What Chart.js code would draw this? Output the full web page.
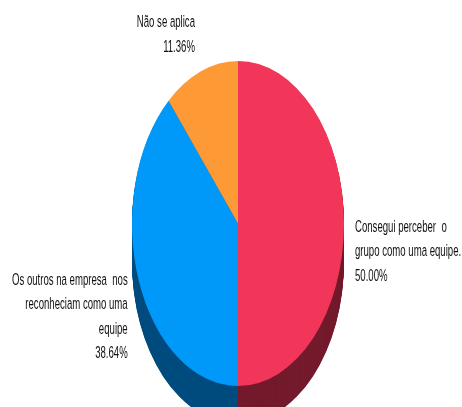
<!DOCTYPE html>
<html>
<head>
<meta charset="utf-8">
<script src="https://cdn.jsdelivr.net/npm/chart.js@4/dist/chart.umd.min.js"></script>
<style>
  html, body { margin: 0; padding: 0; background: #ffffff; }
  canvas { display: block; }
</style>
</head>
<body>
<canvas id="c" width="462" height="407"></canvas>
<script>
// Slice names (split into display lines) and their shares in percent
const categories = [
  ["Consegui perceber  o", "grupo como uma equipe."],
  ["Os outros na empresa  nos", "reconheciam como uma", "equipe"],
  ["Não se aplica"]
];
const percentages = [50.00, 38.64, 11.36];
const topColors = ["#F2365A", "#0099FA", "#FE9A36"];
const sideColors = ["#731A2C", "#004B7E", "#8A5018"];

// Vertical stretch of the pie face, of the label text, and height of the extruded side
const VSCALE = 1.533;
const TEXT_VSCALE = 1.65;
const DEPTH = 38;

// Draws the dark extruded rim, then stretches the face vertically
const tiltPlugin = {
  id: "tilt",
  beforeDatasetsDraw(chart) {
    const ctx = chart.ctx;
    const arcs = chart.getDatasetMeta(0).data;
    const cx = arcs[0].x, cy = arcs[0].y, r = arcs[0].outerRadius;
    ctx.save();
    for (let d = DEPTH; d >= 1; d--) {
      arcs.forEach((a, i) => {
        ctx.beginPath();
        ctx.moveTo(cx, cy + d);
        ctx.ellipse(cx, cy + d, r, r * VSCALE, 0, a.startAngle, a.endAngle);
        ctx.closePath();
        ctx.fillStyle = sideColors[i];
        ctx.fill();
      });
    }
    ctx.translate(cx, cy);
    ctx.scale(1, VSCALE);
    ctx.translate(-cx, -cy);
  },
  afterDatasetsDraw(chart) {
    chart.ctx.restore();
  }
};

// Outside labels: name lines followed by the percentage
const labelPlugin = {
  id: "sliceLabels",
  afterDraw(chart) {
    const ctx = chart.ctx;
    const arcs = chart.getDatasetMeta(0).data;
    const lh = 24.5;
    ctx.save();
    ctx.font = '9.6px "Liberation Sans", Arial, sans-serif';
    ctx.fillStyle = "#111111";
    ctx.textBaseline = "middle";
    arcs.forEach((a, i) => {
      const mid = (a.startAngle + a.endAngle) / 2;
      const px = a.x + Math.cos(mid) * a.outerRadius;
      const py = a.y + Math.sin(mid) * a.outerRadius * VSCALE;
      const lines = [...categories[i], percentages[i].toFixed(2) + "%"];
      let x, y0, align;
      if (Math.sin(mid) < -0.9) {
        align = "right"; x = px - 6; y0 = py - 24 - (lines.length - 1) * lh;
      } else if (Math.cos(mid) > 0) {
        align = "left"; x = px + 11; y0 = py + 4;
      } else {
        align = "right"; x = px - 11; y0 = py;
      }
      ctx.textAlign = align;
      lines.forEach((t, k) => {
        ctx.save();
        ctx.translate(x, y0 + k * lh);
        ctx.scale(1, TEXT_VSCALE);
        ctx.fillText(t, 0, 0);
        ctx.restore();
      });
    });
    ctx.restore();
  }
};

new Chart(document.getElementById("c"), {
  type: "pie",
  data: {
    labels: categories.map(l => l.join(" ")),
    datasets: [{
      data: percentages,
      backgroundColor: topColors,
      borderWidth: 0,
      hoverOffset: 0
    }]
  },
  options: {
    responsive: false,
    animation: false,
    devicePixelRatio: 1,
    events: [],
    layout: { padding: { left: 132, right: 118, top: 117.5, bottom: 77.5 } },
    plugins: { legend: { display: false }, tooltip: { enabled: false } }
  },
  plugins: [tiltPlugin, labelPlugin]
});
</script>
</body>
</html>
